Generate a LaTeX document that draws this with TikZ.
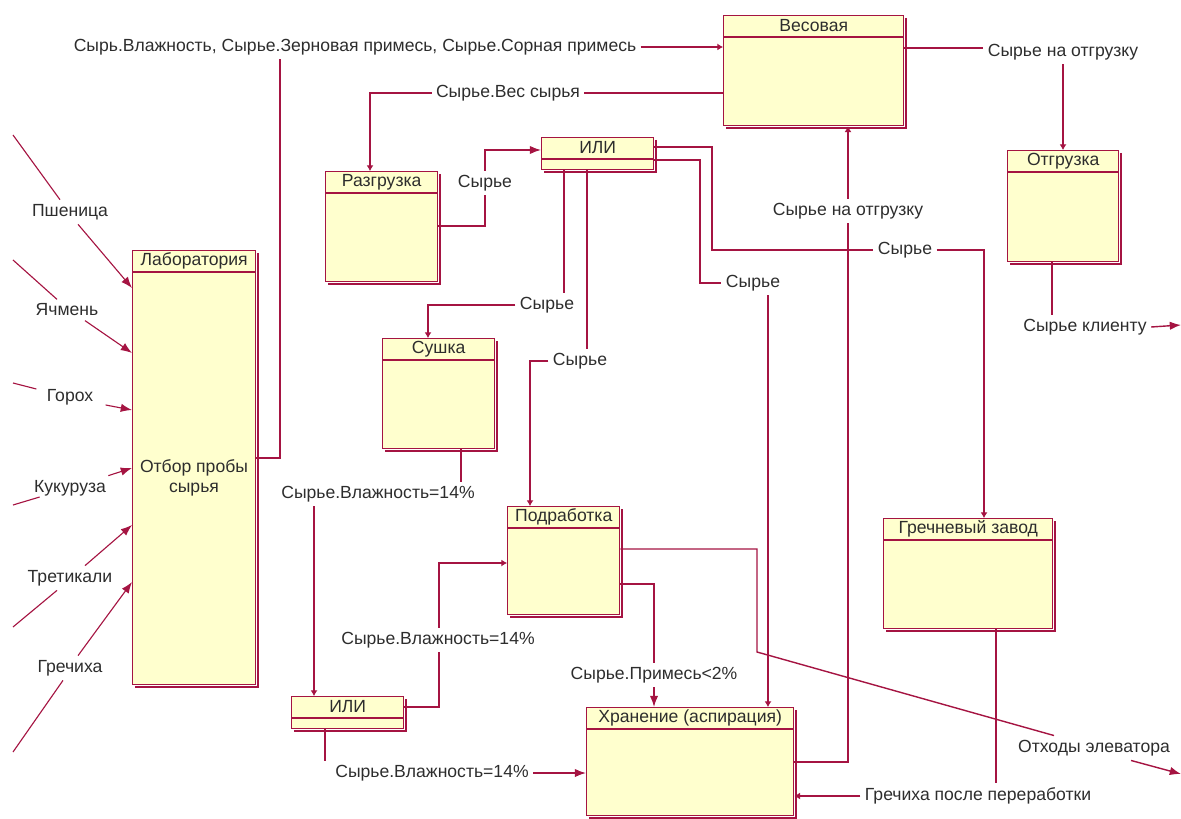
\documentclass[tikz,border=0pt]{standalone}
\usepackage{fontspec}
\setmainfont{Liberation Sans}
\usepackage{tikz}
\usetikzlibrary{arrows.meta}
\usetikzlibrary{calc}

\definecolor{rosered}{RGB}{165,20,66}
\definecolor{boxfill}{RGB}{255,255,206}
\definecolor{textgray}{RGB}{45,45,45}

% class box: name, left, top, width, height, title
\newcommand{\umlclass}[6]{%
  \draw[box_edge] (#2+#4+3,#3+3) -- (#2+#4+3,#3+#5+3) -- (#2+3,#3+#5+3);
  \node[box_style, minimum width=#4*0.025cm, minimum height=#5*0.025cm] (#1) at (#2,#3) {};
  \draw[box_edge] ($(#1.north west)+(0,22)$) -- ($(#1.north east)+(0,22)$);
  \node[title_style] at ($(#1.north)+(0,11)$) {#6};
}

\begin{document}
\begin{tikzpicture}[x=0.025cm, y=-0.025cm,
        box_style/.style={rectangle, anchor=north west, draw=rosered, fill=boxfill, line width=1pt, inner sep=0pt},
        box_edge/.style={draw=rosered, line width=1pt},
        title_style/.style={text=textgray, font=\fontsize{12.5}{14}\selectfont, inner sep=0pt},
        label_style/.style={text=textgray, font=\fontsize{12.5}{14}\selectfont, inner sep=3pt},
        flow/.style={draw=rosered, line width=1pt},
        grain/.style={draw=rosered, line width=0.8pt},
        big/.style={-{Latex[length=8pt,width=6pt]}},
        small/.style={-{Latex[length=4pt,width=5pt]}}]

        \useasboundingbox (0,0) rectangle (1181,819);

        % boxes
        \umlclass{ves}{723}{15}{180}{110}{Весовая}
        \umlclass{otgr}{1007}{150}{111}{111}{Отгрузка}
        \umlclass{razgr}{325}{171}{112}{110}{Разгрузка}
        \umlclass{ili_top}{541}{137}{112}{32}{ИЛИ}
        \umlclass{lab}{132}{250}{123}{434}{Лаборатория}
        \umlclass{sush}{382}{338}{112}{110}{Сушка}
        \umlclass{podr}{507}{506}{112}{108}{Подработка}
        \umlclass{grech}{883}{518}{169}{110}{Гречневый завод}
        \umlclass{ili_bot}{291}{696}{112}{32}{ИЛИ}
        \umlclass{hran}{586}{707}{207}{108}{Хранение (аспирация)}
        \node [label_style, align=center](lab_txt) at (194,478) {Отбор пробы\\сырья};

        % labels
        \node [label_style](lbl_quality) at (355,47) {Сырь.Влажность, Сырье.Зерновая примесь, Сырье.Сорная примесь};
        \node [label_style](lbl_weight) at (508,93) {Сырье.Вес сырья};
        \node [label_style](lbl_ship1) at (1063,52) {Сырье на отгрузку};
        \node [label_style](lbl_raw1) at (485,183) {Сырье};
        \node [label_style](lbl_raw2) at (905,250) {Сырье};
        \node [label_style](lbl_raw3) at (753,283) {Сырье};
        \node [label_style](lbl_raw4) at (547,305) {Сырье};
        \node [label_style](lbl_raw5) at (580,361) {Сырье};
        \node [label_style](lbl_ship2) at (848,211) {Сырье на отгрузку};
        \node [label_style](lbl_client) at (1085,327) {Сырье клиенту};
        \node [label_style](lbl_hum1) at (378,494) {Сырье.Влажность=14\%};
        \node [label_style](lbl_hum2) at (438,640) {Сырье.Влажность=14\%};
        \node [label_style](lbl_hum3) at (432,773) {Сырье.Влажность=14\%};
        \node [label_style](lbl_mix) at (654,675) {Сырье.Примесь<2\%};
        \node [label_style](lbl_waste) at (1094,748) {Отходы элеватора};
        \node [label_style](lbl_buck) at (978,796) {Гречиха после переработки};

        \node [label_style](lbl_wheat) at (70,212) {Пшеница};
        \node [label_style](lbl_barley) at (67,310) {Ячмень};
        \node [label_style](lbl_peas) at (70,397) {Горох};
        \node [label_style](lbl_corn) at (70,488) {Кукуруза};
        \node [label_style](lbl_tri) at (70,578) {Третикали};
        \node [label_style](lbl_buckw) at (70,668) {Гречиха};

        % free ends
        \coordinate (wheat_in) at (13,135);
        \coordinate (barley_in) at (13,260);
        \coordinate (peas_in) at (13,383);
        \coordinate (corn_in) at (13,505);
        \coordinate (tri_in) at (13,627);
        \coordinate (buckw_in) at (13,752);
        \coordinate (client_out) at (1181,325);
        \coordinate (waste_out) at (1181,774);

        % grain inputs
        \draw [grain] (wheat_in) -- ($(lbl_wheat.north)+(-10,0)$);
        \draw [grain,big] ($(lbl_wheat.south)+(8,0)$) -- (lab.west |- 0,288);
        \draw [grain] (barley_in) -- ($(lbl_barley.north)+(-10,0)$);
        \draw [grain,big] ($(lbl_barley.south)+(18,0)$) -- (lab.west |- 0,353);
        \draw [grain] (peas_in) -- ($(lbl_peas.west)+(-6,-8)$);
        \draw [grain,big] ($(lbl_peas.east)+(8,8)$) -- (lab.west |- 0,410);
        \draw [grain] (corn_in) -- ($(lbl_corn.west)+(10,9)$);
        \draw [grain,big] ($(lbl_corn.north east)+(-2,0)$) -- (lab.west |- 0,468);
        \draw [grain] (tri_in) -- ($(lbl_tri.south)+(-13,0)$);
        \draw [grain,big] ($(lbl_tri.north)+(15,0)$) -- (lab.west |- 0,525);
        \draw [grain] (buckw_in) -- ($(lbl_buckw.south)+(-7,0)$);
        \draw [grain,big] ($(lbl_buckw.north)+(8,0)$) -- (lab.west |- 0,582);

        % flows between boxes
        \draw [flow] (lab.east |- 0,458) -| (280,0 |- lbl_quality.south);
        \draw [flow,small] (lbl_quality.east) -- (ves.west |- lbl_quality.east);
        \draw [flow] (ves.west |- lbl_weight) -- (lbl_weight.east);
        \draw [flow,small] (lbl_weight.west) -| (370,0 |- razgr.north);
        \draw [flow] (razgr.east |- 0,226) -| (lbl_raw1.south);
        \draw [flow,big] (lbl_raw1.north) |- (ili_top.west |- 0,150);
        \draw [flow] (ili_top.east |- 0,147) -| (712,250) -- (lbl_raw2.west);
        \draw [flow,small] (lbl_raw2.east) -| (984,0 |- grech.north);
        \draw [flow] (ili_top.east |- 0,160) -| (700,283) -- (lbl_raw3.west);
        \draw [flow,small] (768,0 |- lbl_raw3.south) -- (768,0 |- hran.north);
        \draw [flow] (564,0 |- ili_top.south) -- (564,0 |- lbl_raw4.north);
        \draw [flow,small] (lbl_raw4.west) -| (428,0 |- sush.north);
        \draw [flow] (587,0 |- ili_top.south) -- (587,0 |- lbl_raw5.north);
        \draw [flow,small] (lbl_raw5.west) -| (530,0 |- podr.north);
        \draw [flow] (461,0 |- sush.south) -- (461,0 |- lbl_hum1.north);
        \draw [flow,small] (314,0 |- lbl_hum1.south) -- (314,0 |- ili_bot.north);
        \draw [flow] (ili_bot.east |- 0,707) -| (439,0 |- lbl_hum2.south);
        \draw [flow,small] (439,0 |- lbl_hum2.north) |- (podr.west |- 0,563);
        \draw [flow] (325,0 |- ili_bot.south) -- (325,0 |- lbl_hum3.north);
        \draw [flow,big] (lbl_hum3.east) -- (hran.west |- lbl_hum3);
        \draw [flow] (podr.east |- 0,549) -| (757,652) -- ($(lbl_waste.north)+(-40,0)$);
        \draw [flow,big] ($(lbl_waste.south)+(37,0)$) -- (waste_out);
        \draw [flow] (podr.east |- 0,584) -| (lbl_mix.north);
        \draw [flow,big] (lbl_mix.south) -- (hran.north -| lbl_mix.south);
        \draw [flow] (hran.east |- 0,762) -| (lbl_ship2.south);
        \draw [flow,small] (lbl_ship2.north) -- (ves.south -| lbl_ship2.north);
        \draw [flow] (ves.east |- 0,48) -- (lbl_ship1.west |- 0,48);
        \draw [flow,small] (lbl_ship1.south) -- (otgr.north -| lbl_ship1.south);
        \draw [flow] (1052,0 |- otgr.south) -- (1052,0 |- lbl_client.north);
        \draw [flow,big] (lbl_client.east) -- (client_out);
        \draw [flow] (996,0 |- grech.south) -- (996,0 |- lbl_buck.north);
        \draw [flow,small] (lbl_buck.west) -- (hran.east |- lbl_buck);
\end{tikzpicture}
\end{document}
